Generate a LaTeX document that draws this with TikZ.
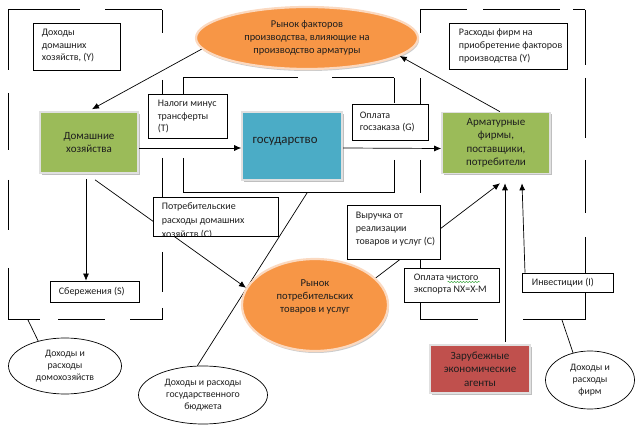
\documentclass[tikz,border=0pt]{standalone}
\usepackage{fontspec}
\setmainfont{Carlito}
\usetikzlibrary{arrows.meta,shapes.geometric,shadows,decorations.pathmorphing}
\pgfdeclarelayer{bg}
\pgfsetlayers{bg,main}
\definecolor{orng}{HTML}{F79646}
\definecolor{orngrim}{HTML}{FBD9C0}
\definecolor{grn}{HTML}{9BBB59}
\definecolor{blu}{HTML}{4BACC6}
\definecolor{rd}{HTML}{C0504D}
\definecolor{txt}{HTML}{1E1E1E}
\definecolor{spell}{HTML}{4CAF50}
\tikzset{
  lbl/.style={draw=black, line width=0.7pt, fill=white, inner sep=0pt},
  lt/.style={anchor=west, align=left, inner sep=0pt, text=txt, font=\fontsize{10}{12.8}\selectfont},
  colbox/.style={draw=black!12, line width=1.6pt, align=center, inner sep=0pt,
    font=\fontsize{11}{13.4}\selectfont, text=txt,
    drop shadow={shadow xshift=1.5pt, shadow yshift=-2pt, opacity=0.25, fill=black}},
  mkt/.style={ellipse, fill=orng, draw=orngrim, line width=2.2pt, inner sep=0pt, align=center,
    font=\fontsize{10.4}{12.8}\selectfont, text=txt,
    drop shadow={shadow xshift=1pt, shadow yshift=-2pt, opacity=0.2, fill=black}},
  oval/.style={ellipse, draw=black, line width=0.7pt, fill=white, inner sep=0pt, align=center,
    font=\fontsize{9.8}{12}\selectfont, text=txt},
  frameseg/.style={line width=1pt},
  arr/.style={-{Latex[length=7pt,width=6pt]}, line width=0.7pt},
  ln/.style={line width=0.7pt}
}
\begin{document}
\begin{tikzpicture}[x=1pt,y=-1pt]
\useasboundingbox (0,0) rectangle (640,430);

% market ellipses
\node[mkt, minimum width=222pt, minimum height=62pt] (E1) at (307,38)
  {Рынок факторов\\производства, влияющие на\\производство арматуры};
\node[mkt, minimum width=146pt, minimum height=92pt] (E2) at (315,305) {};
\node[font=\fontsize{10.6}{13.4}\selectfont, text=txt, align=center] (E2t) at (315,297)
  {Рынок\\потребительских\\товаров и услуг};

% coloured boxes
\node[colbox, fill=grn, minimum width=98pt, minimum height=61pt] (G1) at (89,142.5)
  {Домашние\\хозяйства};
\node[colbox, fill=blu, minimum width=100pt, minimum height=68pt] (G2) at (292,146) {};
\node[font=\fontsize{12.8}{15}\selectfont, text=txt] (G2t) at (285,141) {государство};
\node[colbox, fill=grn, minimum width=108pt, minimum height=61pt] (G3) at (496,143)
  {Арматурные\\фирмы,\\поставщики,\\потребители};
\node[colbox, fill=rd, minimum width=100pt, minimum height=48pt] (R1) at (480,369)
  {Зарубежные\\экономические\\агенты};

% label boxes
\node[lbl, minimum width=87pt, minimum height=47pt] (B1) at (76.5,46.5) {};
\node[lt] (B1t) at ([xshift=9pt,yshift=1pt]B1.west) {Доходы\\домашних\\хозяйств, (Y)};
\node[lbl, minimum width=79pt, minimum height=44pt] (B2) at (187.5,116) {};
\node[lt] (B2t) at ([xshift=10pt,yshift=-0.5pt]B2.west) {Налоги минус\\трансферты\\(T)};
\node[lbl, minimum width=76pt, minimum height=36pt] (B3) at (390,122) {};
\node[lt] (B3t) at ([xshift=8pt]B3.west) {Оплата\\госзаказа (G)};
\node[lbl, minimum width=118pt, minimum height=46pt] (B4) at (508,46) {};
\node[lt] (B4t) at ([xshift=10pt]B4.west) {Расходы фирм на\\приобретение факторов\\производства (Y)};
\node[lbl, minimum width=125pt, minimum height=39pt] (B5) at (215.5,216.5) {};
\begin{scope}
  \clip ([shift={(0.6pt,0.6pt)}]B5.south west) rectangle ([shift={(-0.6pt,-0.6pt)}]B5.north east);
  \node[lt, anchor=north west, font=\fontsize{10}{14}\selectfont]
    (B5t) at ([xshift=9pt,yshift=-5.5pt]B5.north west) {Потребительские\\расходы домашних\\хозяйств (С)};
\end{scope}
\node[lbl, minimum width=93pt, minimum height=54pt] (B6) at (393.5,232) {};
\node[lt] (B6t) at ([xshift=9pt,yshift=3pt]B6.west) {Выручка от\\реализации\\товаров и услуг (С)};
\node[lbl, minimum width=95pt, minimum height=34pt] (B7) at (451.5,285) {};
\node[lt] (B7t) at ([xshift=10pt,yshift=1pt]B7.west) {Оплата чистого\\экспорта NX=X-M};
\node[lbl, minimum width=91pt, minimum height=19pt] (B8) at (567.5,282.5) {};
\node[lt] (B8t) at ([xshift=10pt]B8.west) {Инвестиции (I)};
\node[lbl, minimum width=89pt, minimum height=21pt] (B9) at (94.5,291.5) {};
\node[lt] (B9t) at ([xshift=9pt]B9.west) {Сбережения (S)};
% spell-check underline under the second word
\coordinate (sp1) at (447.5,282);
\coordinate (sp2) at (480,282);
\draw[spell, line width=0.5pt, decorate, decoration={snake, amplitude=0.7pt, segment length=3pt}] (sp1) -- (sp2);

% white ovals
\node[oval, minimum width=113pt, minimum height=56pt] (E3) at (65,366)
  {Доходы и\\расходы\\домохозяйств};
\node[oval, minimum width=129pt, minimum height=58pt] (E4) at (203,395)
  {Доходы и расходы\\государственного\\бюджета};
\node[oval, minimum width=89pt, minimum height=58pt] (E5) at (590,380)
  {Доходы и\\расходы\\фирм};

\begin{pgfonlayer}{bg}
  % dashed frame: households
  \draw[frameseg] (8,10) -- (80,10) (105,10) -- (162,10)
    (162,10) -- (162,33) (162,80) -- (162,100) (162,158) -- (162,197)
    (162,252) -- (162,292) (162,308) -- (162,320)
    (8,320) -- (40,320) (58,320) -- (105,320) (130,320) -- (162,320)
    (8,10) -- (8,70) (8,93) -- (8,150) (8,180) -- (8,230) (8,268) -- (8,320);
  % dashed frame: state
  \draw[frameseg] (183,78) -- (298,78) (332,78) -- (394,78)
    (394,78) -- (394,103) (394,160) -- (394,193)
    (183,193) -- (394,193)
    (183,78) -- (183,100) (183,158) -- (183,193);
  % dashed frame: firms
  \draw[frameseg] (420,10) -- (467,10) (483,10) -- (560,10) (573,10) -- (585,10)
    (585,10) -- (585,65) (585,78) -- (585,138) (585,160) -- (585,213) (585,237) -- (585,320)
    (420,320) -- (478,320) (523,320) -- (585,320)
    (420,10) -- (420,33) (420,78) -- (420,140) (420,160) -- (420,193) (420,240) -- (420,320);
  \coordinate (hf) at (28,320);
  \coordinate (gf) at (307,193);
  \coordinate (ff) at (562,320);
  % connectors
  \draw[arr] (E1.186) -- ([xshift=3pt,yshift=2pt]G1.north);
  \draw[arr] ([yshift=-5.5pt]G1.east) -- ([yshift=-2pt]G2.west);
  \draw[arr] ([yshift=-2pt]G2.east) -- ([yshift=-5.5pt]G3.west);
  \draw[arr] ([xshift=4pt]G3.north) -- (E1.-11);
  \draw[arr] ([xshift=-3pt,yshift=-5pt]G1.south) -- ([xshift=-3pt]G1.south |- B9.north);
  \draw[arr] ([xshift=6pt,yshift=-6pt]G1.south) -- (E2.166);
  \draw[ln] (gf) -- (E4.101);
  \draw[ln] (hf) -- (E3.137);
  \draw[ln] (ff) -- (E5.122);
  \draw[arr] (E2.24) -- ([xshift=4pt,yshift=-9pt]G3.south);
  \draw[arr] ([xshift=25pt,yshift=2pt]R1.north) -- ([xshift=9pt,yshift=-9pt]G3.south);
  \draw[arr] ([xshift=-42.5pt]B8.north) -- ([xshift=26pt,yshift=-9pt]G3.south);
\end{pgfonlayer}
\end{tikzpicture}
\end{document}
